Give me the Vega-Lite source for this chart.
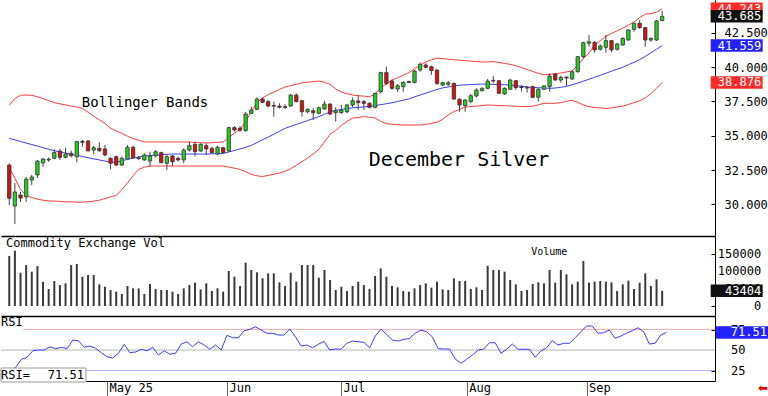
{
"$schema":"https://vega.github.io/schema/vega-lite/v6.json",
"background":"white",
"padding":0,
"spacing":0,
"bounds":"flush",
"config":{"view":{"stroke":null},"font":"DejaVu Sans Mono","axis":{"labelFont":"DejaVu Sans Mono","labelFontSize":12,"labelColor":"#000","grid":false,"labelOverlap":false},"text":{"font":"DejaVu Sans Mono"}},
"data":{"values":[
{"d":"2025-04-04","o":32.87,"h":33.0,"l":29.96,"c":30.45,"v":143000,"r":22,"ub":37.23,"ma":34.81,"lb":32.65},
{"d":"2025-04-07","o":29.89,"h":31.56,"l":28.58,"c":30.91,"v":158000,"r":25,"ub":37.70,"ma":34.70,"lb":31.91},
{"d":"2025-04-08","o":30.69,"h":30.91,"l":30.18,"c":30.47,"v":95000,"r":28.9,"ub":37.95,"ma":34.58,"lb":31.10},
{"d":"2025-04-09","o":30.55,"h":32.0,"l":30.18,"c":31.85,"v":117000,"r":38.7,"ub":37.96,"ma":34.47,"lb":30.68},
{"d":"2025-04-10","o":31.78,"h":32.15,"l":31.42,"c":32.0,"v":98000,"r":41.1,"ub":37.94,"ma":34.36,"lb":30.50},
{"d":"2025-04-11","o":32.15,"h":33.24,"l":31.93,"c":33.16,"v":114000,"r":49.1,"ub":37.84,"ma":34.25,"lb":30.39},
{"d":"2025-04-14","o":33.02,"h":33.38,"l":32.73,"c":33.31,"v":69000,"r":50.0,"ub":37.70,"ma":34.13,"lb":30.31},
{"d":"2025-04-15","o":33.24,"h":33.42,"l":33.1,"c":33.3,"v":48600,"r":50.0,"ub":37.56,"ma":34.02,"lb":30.26},
{"d":"2025-04-16","o":33.36,"h":34.04,"l":33.31,"c":33.77,"v":71400,"r":54.0,"ub":37.41,"ma":33.91,"lb":30.25},
{"d":"2025-04-17","o":33.89,"h":34.04,"l":33.24,"c":33.43,"v":60000,"r":51.6,"ub":37.32,"ma":33.83,"lb":30.22},
{"d":"2025-04-21","o":33.43,"h":34.13,"l":33.36,"c":33.67,"v":64800,"r":53.3,"ub":37.24,"ma":33.74,"lb":30.20},
{"d":"2025-04-22","o":33.72,"h":33.92,"l":33.43,"c":33.55,"v":117000,"r":51.6,"ub":37.16,"ma":33.66,"lb":30.19},
{"d":"2025-04-23","o":33.48,"h":34.64,"l":33.07,"c":34.57,"v":120000,"r":62.2,"ub":37.09,"ma":33.57,"lb":30.17},
{"d":"2025-04-24","o":34.6,"h":34.69,"l":34.2,"c":34.52,"v":83800,"r":61.3,"ub":36.99,"ma":33.49,"lb":30.17},
{"d":"2025-04-25","o":34.62,"h":34.69,"l":33.89,"c":33.89,"v":88600,"r":53.3,"ub":36.71,"ma":33.41,"lb":30.20},
{"d":"2025-04-28","o":33.96,"h":34.28,"l":33.67,"c":34.13,"v":88600,"r":54.9,"ub":36.42,"ma":33.32,"lb":30.24},
{"d":"2025-04-29","o":34.08,"h":34.52,"l":33.84,"c":33.91,"v":61900,"r":52.1,"ub":36.16,"ma":33.24,"lb":30.31},
{"d":"2025-04-30","o":34.04,"h":34.33,"l":33.5,"c":33.6,"v":55200,"r":46.7,"ub":35.90,"ma":33.16,"lb":30.43},
{"d":"2025-05-01","o":33.36,"h":33.43,"l":32.56,"c":33.0,"v":45700,"r":41.8,"ub":35.55,"ma":33.08,"lb":30.55},
{"d":"2025-05-02","o":33.48,"h":33.55,"l":32.8,"c":32.87,"v":41000,"r":40.2,"ub":35.35,"ma":33.06,"lb":30.66},
{"d":"2025-05-05","o":32.87,"h":33.5,"l":32.8,"c":33.36,"v":34300,"r":46.0,"ub":35.18,"ma":33.18,"lb":31.08},
{"d":"2025-05-06","o":33.31,"h":34.33,"l":33.31,"c":34.16,"v":57100,"r":57.0,"ub":34.97,"ma":33.28,"lb":31.57},
{"d":"2025-05-07","o":34.16,"h":34.28,"l":33.36,"c":33.4,"v":50500,"r":46.7,"ub":34.79,"ma":33.37,"lb":32.10},
{"d":"2025-05-08","o":33.4,"h":33.53,"l":33.26,"c":33.33,"v":50500,"r":47.6,"ub":34.67,"ma":33.45,"lb":32.55},
{"d":"2025-05-09","o":33.24,"h":33.72,"l":33.18,"c":33.6,"v":34300,"r":50.9,"ub":34.55,"ma":33.53,"lb":32.71},
{"d":"2025-05-12","o":33.16,"h":33.84,"l":32.75,"c":33.53,"v":62900,"r":49.1,"ub":34.55,"ma":33.56,"lb":32.79},
{"d":"2025-05-13","o":33.53,"h":33.96,"l":33.43,"c":33.84,"v":48600,"r":53.3,"ub":34.55,"ma":33.59,"lb":32.80},
{"d":"2025-05-14","o":33.77,"h":33.84,"l":33.0,"c":33.04,"v":45700,"r":43.9,"ub":34.55,"ma":33.62,"lb":32.80},
{"d":"2025-05-15","o":33.0,"h":33.6,"l":32.51,"c":33.48,"v":45700,"r":49.1,"ub":34.55,"ma":33.65,"lb":32.80},
{"d":"2025-05-16","o":33.53,"h":33.6,"l":32.8,"c":33.11,"v":41000,"r":44.8,"ub":34.55,"ma":33.67,"lb":32.80},
{"d":"2025-05-19","o":33.36,"h":33.48,"l":33.12,"c":33.24,"v":34300,"r":46.0,"ub":34.55,"ma":33.67,"lb":32.80},
{"d":"2025-05-20","o":33.24,"h":34.08,"l":33.0,"c":33.96,"v":50500,"r":57.3,"ub":34.55,"ma":33.67,"lb":32.80},
{"d":"2025-05-21","o":33.96,"h":34.57,"l":33.84,"c":34.28,"v":60000,"r":60.1,"ub":34.54,"ma":33.67,"lb":32.80},
{"d":"2025-05-22","o":34.38,"h":34.57,"l":33.5,"c":33.84,"v":66700,"r":54.0,"ub":34.52,"ma":33.67,"lb":32.80},
{"d":"2025-05-23","o":33.89,"h":34.45,"l":33.84,"c":34.38,"v":47600,"r":60.1,"ub":34.49,"ma":33.67,"lb":32.80},
{"d":"2025-05-27","o":34.28,"h":34.45,"l":33.6,"c":34.04,"v":64800,"r":56.1,"ub":34.48,"ma":33.67,"lb":32.80},
{"d":"2025-05-28","o":34.08,"h":34.2,"l":33.72,"c":33.77,"v":42900,"r":50.9,"ub":34.49,"ma":33.68,"lb":32.80},
{"d":"2025-05-29","o":33.67,"h":34.28,"l":33.6,"c":34.16,"v":50500,"r":56.1,"ub":34.52,"ma":33.70,"lb":32.80},
{"d":"2025-05-30","o":34.13,"h":34.2,"l":33.72,"c":33.77,"v":41000,"r":50.0,"ub":34.56,"ma":33.72,"lb":32.80},
{"d":"2025-06-02","o":33.89,"h":35.66,"l":33.84,"c":35.59,"v":100000,"r":67.9,"ub":34.86,"ma":33.82,"lb":32.72},
{"d":"2025-06-03","o":35.59,"h":35.71,"l":35.3,"c":35.42,"v":83800,"r":65.0,"ub":35.19,"ma":33.93,"lb":32.64},
{"d":"2025-06-04","o":35.55,"h":35.7,"l":35.3,"c":35.4,"v":57100,"r":65.0,"ub":35.45,"ma":34.04,"lb":32.55},
{"d":"2025-06-05","o":35.37,"h":36.73,"l":35.3,"c":36.58,"v":123800,"r":73.5,"ub":36.01,"ma":34.16,"lb":32.39},
{"d":"2025-06-06","o":36.63,"h":37.12,"l":36.58,"c":36.87,"v":102900,"r":75.2,"ub":36.77,"ma":34.30,"lb":32.19},
{"d":"2025-06-09","o":36.92,"h":37.79,"l":36.87,"c":37.67,"v":96200,"r":78.4,"ub":37.40,"ma":34.50,"lb":32.09},
{"d":"2025-06-10","o":37.67,"h":37.77,"l":37.36,"c":37.43,"v":79000,"r":74.4,"ub":37.75,"ma":34.71,"lb":32.03},
{"d":"2025-06-11","o":37.48,"h":37.6,"l":37.07,"c":37.16,"v":93300,"r":70.4,"ub":37.99,"ma":34.90,"lb":32.12},
{"d":"2025-06-12","o":37.2,"h":37.48,"l":36.39,"c":37.15,"v":93300,"r":70.4,"ub":38.17,"ma":35.11,"lb":32.20},
{"d":"2025-06-13","o":37.16,"h":37.36,"l":36.99,"c":37.07,"v":67600,"r":68.3,"ub":38.36,"ma":35.32,"lb":32.28},
{"d":"2025-06-16","o":37.12,"h":37.3,"l":36.95,"c":37.05,"v":57100,"r":68.3,"ub":38.55,"ma":35.54,"lb":32.42},
{"d":"2025-06-17","o":37.16,"h":38.04,"l":37.12,"c":37.96,"v":95200,"r":75.6,"ub":38.65,"ma":35.68,"lb":32.60},
{"d":"2025-06-18","o":37.96,"h":38.08,"l":37.43,"c":37.48,"v":69500,"r":66.2,"ub":38.74,"ma":35.82,"lb":32.86},
{"d":"2025-06-20","o":37.55,"h":37.6,"l":36.39,"c":36.75,"v":117000,"r":54.9,"ub":38.84,"ma":35.96,"lb":33.11},
{"d":"2025-06-23","o":36.75,"h":36.99,"l":36.63,"c":36.92,"v":117000,"r":56.1,"ub":38.89,"ma":36.10,"lb":33.38},
{"d":"2025-06-24","o":36.82,"h":36.99,"l":36.15,"c":36.68,"v":117000,"r":52.8,"ub":38.94,"ma":36.25,"lb":33.68},
{"d":"2025-06-25","o":36.63,"h":37.12,"l":36.56,"c":37.04,"v":81000,"r":57.0,"ub":38.98,"ma":36.39,"lb":34.00},
{"d":"2025-06-26","o":36.95,"h":37.55,"l":36.87,"c":37.31,"v":102900,"r":60.6,"ub":38.90,"ma":36.56,"lb":34.55},
{"d":"2025-06-27","o":37.31,"h":37.36,"l":36.51,"c":36.58,"v":74300,"r":50.0,"ub":38.74,"ma":36.73,"lb":35.11},
{"d":"2025-06-30","o":36.68,"h":37.07,"l":36.03,"c":36.82,"v":45700,"r":51.2,"ub":38.40,"ma":36.85,"lb":35.39},
{"d":"2025-07-01","o":36.68,"h":37.24,"l":36.58,"c":36.87,"v":55200,"r":50.9,"ub":38.18,"ma":36.91,"lb":35.75},
{"d":"2025-07-02","o":36.75,"h":37.31,"l":36.63,"c":37.24,"v":42900,"r":58.2,"ub":38.06,"ma":36.98,"lb":36.04},
{"d":"2025-07-03","o":37.24,"h":37.79,"l":37.07,"c":37.55,"v":57100,"r":61.0,"ub":37.96,"ma":37.03,"lb":36.28},
{"d":"2025-07-07","o":37.53,"h":37.96,"l":36.87,"c":37.41,"v":69500,"r":60.1,"ub":37.91,"ma":37.06,"lb":36.33},
{"d":"2025-07-08","o":37.48,"h":37.6,"l":36.87,"c":37.36,"v":60000,"r":59.4,"ub":37.88,"ma":37.10,"lb":36.39},
{"d":"2025-07-09","o":37.36,"h":37.43,"l":36.99,"c":37.07,"v":48600,"r":52.8,"ub":37.84,"ma":37.13,"lb":36.34},
{"d":"2025-07-10","o":37.07,"h":38.13,"l":36.99,"c":38.08,"v":85700,"r":67.1,"ub":38.02,"ma":37.19,"lb":36.29},
{"d":"2025-07-11","o":38.2,"h":39.66,"l":38.08,"c":39.59,"v":107600,"r":75.6,"ub":38.49,"ma":37.26,"lb":36.04},
{"d":"2025-07-14","o":39.59,"h":40.02,"l":38.69,"c":38.81,"v":83800,"r":68.7,"ub":38.77,"ma":37.33,"lb":35.88},
{"d":"2025-07-15","o":38.98,"h":39.1,"l":38.33,"c":38.45,"v":57100,"r":62.1,"ub":39.03,"ma":37.40,"lb":35.84},
{"d":"2025-07-16","o":38.4,"h":38.76,"l":38.2,"c":38.64,"v":53300,"r":61.0,"ub":39.22,"ma":37.49,"lb":35.80},
{"d":"2025-07-17","o":38.57,"h":38.98,"l":38.2,"c":38.88,"v":42900,"r":63.0,"ub":39.40,"ma":37.59,"lb":35.78},
{"d":"2025-07-18","o":38.95,"h":39.0,"l":38.83,"c":38.88,"v":41000,"r":64.1,"ub":39.59,"ma":37.68,"lb":35.78},
{"d":"2025-07-21","o":38.88,"h":39.78,"l":38.81,"c":39.71,"v":50500,"r":70.7,"ub":39.86,"ma":37.83,"lb":35.78},
{"d":"2025-07-22","o":39.78,"h":40.32,"l":39.66,"c":40.2,"v":60000,"r":74.4,"ub":40.15,"ma":37.96,"lb":35.78},
{"d":"2025-07-23","o":40.15,"h":40.27,"l":39.9,"c":39.98,"v":64800,"r":72.3,"ub":40.36,"ma":38.10,"lb":35.82},
{"d":"2025-07-24","o":40.02,"h":40.1,"l":39.42,"c":39.74,"v":52400,"r":65.9,"ub":40.52,"ma":38.23,"lb":35.90},
{"d":"2025-07-25","o":39.78,"h":39.83,"l":38.69,"c":38.81,"v":69500,"r":51.8,"ub":40.65,"ma":38.37,"lb":35.99},
{"d":"2025-07-28","o":38.69,"h":38.93,"l":38.62,"c":38.86,"v":47600,"r":51.2,"ub":40.61,"ma":38.48,"lb":36.19},
{"d":"2025-07-29","o":38.74,"h":38.98,"l":38.62,"c":38.86,"v":45700,"r":51.2,"ub":40.57,"ma":38.55,"lb":36.51},
{"d":"2025-07-30","o":38.81,"h":38.86,"l":37.6,"c":37.67,"v":79000,"r":39.0,"ub":40.53,"ma":38.63,"lb":36.76},
{"d":"2025-07-31","o":37.65,"h":37.72,"l":36.75,"c":37.24,"v":71400,"r":33.8,"ub":40.49,"ma":38.68,"lb":36.92},
{"d":"2025-08-01","o":37.19,"h":37.65,"l":36.75,"c":37.6,"v":71400,"r":38.7,"ub":40.46,"ma":38.70,"lb":37.08},
{"d":"2025-08-04","o":37.48,"h":38.04,"l":37.36,"c":37.91,"v":48600,"r":43.9,"ub":40.43,"ma":38.72,"lb":37.13},
{"d":"2025-08-05","o":37.89,"h":38.45,"l":37.79,"c":38.33,"v":53300,"r":50.0,"ub":40.39,"ma":38.74,"lb":37.16},
{"d":"2025-08-06","o":38.28,"h":38.52,"l":38.21,"c":38.45,"v":45700,"r":51.2,"ub":40.36,"ma":38.76,"lb":37.19},
{"d":"2025-08-07","o":38.45,"h":39.13,"l":38.38,"c":38.98,"v":115000,"r":58.9,"ub":40.37,"ma":38.75,"lb":37.24},
{"d":"2025-08-08","o":39.03,"h":39.35,"l":38.81,"c":38.98,"v":102900,"r":58.9,"ub":40.39,"ma":38.73,"lb":37.22},
{"d":"2025-08-11","o":39.0,"h":39.05,"l":38.04,"c":38.09,"v":102900,"r":46.0,"ub":40.33,"ma":38.72,"lb":37.20},
{"d":"2025-08-12","o":38.04,"h":38.52,"l":37.96,"c":38.45,"v":98000,"r":50.9,"ub":40.26,"ma":38.71,"lb":37.18},
{"d":"2025-08-13","o":38.38,"h":39.15,"l":38.33,"c":39.05,"v":74300,"r":57.3,"ub":40.19,"ma":38.68,"lb":37.16},
{"d":"2025-08-14","o":39.0,"h":39.05,"l":38.33,"c":38.5,"v":61900,"r":50.9,"ub":40.09,"ma":38.64,"lb":37.15},
{"d":"2025-08-15","o":38.55,"h":38.69,"l":38.21,"c":38.5,"v":42900,"r":50.9,"ub":39.96,"ma":38.60,"lb":37.13},
{"d":"2025-08-18","o":38.5,"h":38.62,"l":38.14,"c":38.47,"v":45700,"r":50.9,"ub":39.82,"ma":38.55,"lb":37.12},
{"d":"2025-08-19","o":38.57,"h":38.64,"l":37.72,"c":37.8,"v":62900,"r":41.1,"ub":39.68,"ma":38.52,"lb":37.15},
{"d":"2025-08-20","o":37.8,"h":38.45,"l":37.48,"c":38.38,"v":67600,"r":48.8,"ub":39.54,"ma":38.49,"lb":37.25},
{"d":"2025-08-21","o":38.38,"h":38.69,"l":38.33,"c":38.62,"v":64800,"r":52.8,"ub":39.43,"ma":38.47,"lb":37.36},
{"d":"2025-08-22","o":38.57,"h":39.54,"l":38.21,"c":39.35,"v":102900,"r":61.3,"ub":39.47,"ma":38.45,"lb":37.36},
{"d":"2025-08-25","o":39.49,"h":39.54,"l":39.0,"c":39.05,"v":66700,"r":56.1,"ub":39.51,"ma":38.47,"lb":37.36},
{"d":"2025-08-26","o":39.05,"h":39.37,"l":38.86,"c":39.25,"v":102900,"r":58.2,"ub":39.56,"ma":38.52,"lb":37.41},
{"d":"2025-08-27","o":39.27,"h":39.3,"l":38.62,"c":39.2,"v":90500,"r":58.2,"ub":39.64,"ma":38.60,"lb":37.50},
{"d":"2025-08-28","o":39.13,"h":39.73,"l":39.05,"c":39.66,"v":61900,"r":65.0,"ub":39.72,"ma":38.71,"lb":37.59},
{"d":"2025-08-29","o":39.66,"h":40.8,"l":39.59,"c":40.75,"v":69500,"r":72.3,"ub":40.12,"ma":38.83,"lb":37.43},
{"d":"2025-09-02","o":40.75,"h":41.84,"l":40.63,"c":41.77,"v":128600,"r":79.3,"ub":40.62,"ma":38.97,"lb":37.24},
{"d":"2025-09-03","o":41.72,"h":42.33,"l":41.48,"c":41.84,"v":66700,"r":79.3,"ub":41.02,"ma":39.11,"lb":37.12},
{"d":"2025-09-04","o":41.79,"h":41.89,"l":41.04,"c":41.24,"v":69500,"r":70.4,"ub":41.60,"ma":39.26,"lb":37.06},
{"d":"2025-09-05","o":41.29,"h":41.65,"l":41.19,"c":41.53,"v":71400,"r":71.1,"ub":41.91,"ma":39.39,"lb":37.03},
{"d":"2025-09-08","o":41.43,"h":42.33,"l":41.04,"c":41.92,"v":69500,"r":74.4,"ub":42.23,"ma":39.54,"lb":36.98},
{"d":"2025-09-09","o":41.92,"h":41.96,"l":41.07,"c":41.24,"v":67600,"r":64.3,"ub":42.44,"ma":39.70,"lb":37.03},
{"d":"2025-09-10","o":41.29,"h":41.77,"l":41.19,"c":41.67,"v":42900,"r":67.1,"ub":42.63,"ma":39.84,"lb":37.09},
{"d":"2025-09-11","o":41.6,"h":42.16,"l":41.55,"c":42.08,"v":61900,"r":70.4,"ub":42.83,"ma":39.98,"lb":37.15},
{"d":"2025-09-12","o":41.96,"h":42.74,"l":41.92,"c":42.69,"v":72400,"r":73.5,"ub":43.03,"ma":40.17,"lb":37.27},
{"d":"2025-09-15","o":42.74,"h":43.23,"l":42.57,"c":43.18,"v":48600,"r":77.2,"ub":43.28,"ma":40.34,"lb":37.41},
{"d":"2025-09-16","o":43.18,"h":43.42,"l":42.79,"c":42.86,"v":66700,"r":72.3,"ub":43.59,"ma":40.54,"lb":37.54},
{"d":"2025-09-17","o":42.86,"h":42.93,"l":41.48,"c":41.96,"v":93300,"r":57.3,"ub":43.85,"ma":40.77,"lb":37.75},
{"d":"2025-09-18","o":41.96,"h":42.16,"l":41.84,"c":42.08,"v":57100,"r":58.2,"ub":43.88,"ma":41.03,"lb":38.07},
{"d":"2025-09-19","o":41.96,"h":43.42,"l":41.89,"c":43.35,"v":76200,"r":68.3,"ub":43.99,"ma":41.29,"lb":38.45},
{"d":"2025-09-22","o":43.37,"h":44.1,"l":43.35,"c":43.685,"v":43404,"r":71.51,"ub":44.243,"ma":41.559,"lb":38.876}
]},
"transform":[
{"window":[{"op":"row_number","as":"rn"}]},
{"joinaggregate":[{"op":"max","field":"rn","as":"last"}]}
],
"vconcat":[
{
"width":714,"height":236,
"encoding":{"x":{"field":"rn","type":"quantitative","title":null,"scale":{"domain":[0.42,125.5],"nice":false,"zero":false},"axis":{"labels":false,"ticks":false,"domainColor":"#000","domainWidth":1.5,"grid":false}}},
"layer":[
{"mark":{"type":"line","color":"#ff3a3a","strokeWidth":1},"encoding":{"y":{"field":"ub","type":"quantitative","title":null,"scale":{"domain":[27.709,44.873],"nice":false,"zero":false},"axis":{"orient":"right","values":[30,32.5,35,37.5,40,42.5],"format":".3f","tickSize":-4,"labelPadding":13,"domainColor":"#000","tickColor":"#000","grid":false}}}},
{"mark":{"type":"line","color":"#3a3aff","strokeWidth":1},"encoding":{"y":{"field":"ma","type":"quantitative","title":null}}},
{"mark":{"type":"line","color":"#ff3a3a","strokeWidth":1},"encoding":{"y":{"field":"lb","type":"quantitative","title":null}}},
{"mark":{"type":"rule","color":"#444","strokeWidth":1},"encoding":{"y":{"field":"l","type":"quantitative","title":null},"y2":{"field":"h"}}},
{"mark":{"type":"bar","size":3.4,"stroke":"#333","strokeWidth":0.8},"encoding":{"y":{"field":"o","type":"quantitative","title":null},"y2":{"field":"c"},"color":{"condition":{"test":"datum.c >= datum.o","value":"#22cc22"},"value":"#d41010"}}},
{"transform":[{"filter":"datum.rn == datum.last"}],"mark":{"type":"text","text":"Bollinger Bands","font":"DejaVu Sans Mono","fontSize":14,"align":"center","baseline":"middle","color":"#000"},"encoding":{"x":{"datum":25.12},"y":{"datum":37.38}}},
{"transform":[{"filter":"datum.rn == datum.last"}],"mark":{"type":"text","text":"December Silver","font":"DejaVu Sans Mono","fontSize":20,"align":"center","baseline":"middle","color":"#000"},"encoding":{"x":{"datum":80.92},"y":{"datum":33.27}}},
{"transform":[{"filter":"datum.rn == datum.last"}],"mark":{"type":"tick","orient":"horizontal","thickness":12.5,"opacity":1,"color":"#ff2a2a"},"encoding":{"x":{"datum":130.24},"y":{"field":"ub","type":"quantitative","title":null},"size":{"value":52}}},
{"transform":[{"filter":"datum.rn == datum.last"}],"mark":{"type":"text","align":"right","baseline":"middle","fontSize":12,"color":"white"},"encoding":{"x":{"datum":134.6},"y":{"field":"ub","type":"quantitative","title":null},"text":{"field":"ub","type":"quantitative","format":".3f"}}},
{"transform":[{"filter":"datum.rn == datum.last"},{"fold":["c","ma","lb"],"as":["key","val"]}],"mark":{"type":"tick","orient":"horizontal","thickness":12.5,"opacity":1},"encoding":{"x":{"datum":130.24},"y":{"field":"val","type":"quantitative","title":null},"size":{"value":52},"color":{"field":"key","type":"nominal","scale":{"domain":["c","ma","lb"],"range":["#111111","#2222ff","#ff2a2a"]},"legend":null}}},
{"transform":[{"filter":"datum.rn == datum.last"},{"fold":["c","ma","lb"],"as":["key","val"]}],"mark":{"type":"text","align":"right","baseline":"middle","fontSize":12,"color":"white"},"encoding":{"x":{"datum":134.6},"y":{"field":"val","type":"quantitative","title":null},"text":{"field":"val","type":"quantitative","format":".3f"}}}
]
},
{
"width":714,"height":80,
"encoding":{"x":{"field":"rn","type":"quantitative","title":null,"scale":{"domain":[0.42,125.5],"nice":false,"zero":false},"axis":{"labels":false,"ticks":false,"domainColor":"#000","domainWidth":1.5,"grid":false}}},
"layer":[
{"mark":{"type":"bar","size":2,"color":"#3a3a3a"},"encoding":{"y":{"field":"v","type":"quantitative","title":null,"scale":{"domain":[-28571,200000],"nice":false,"zero":false},"axis":{"orient":"right","values":[0,50000,100000,150000],"labels":false,"tickSize":-4,"domainColor":"#000","tickColor":"#000","grid":false}},"y2":{"datum":0}}},
{"transform":[{"filter":"datum.rn == datum.last"}],"mark":{"type":"text","text":"Commodity Exchange Vol","fontSize":12,"align":"left","baseline":"top","dy":2,"color":"#000"},"encoding":{"x":{"datum":0.42},"y":{"datum":200000}}},
{"transform":[{"filter":"datum.rn == datum.last"}],"mark":{"type":"text","text":"Volume","fontSize":10,"align":"center","baseline":"middle","color":"#000"},"encoding":{"x":{"datum":96.95},"y":{"datum":154286}}},
{"transform":[{"filter":"datum.rn == datum.last"}],"mark":{"type":"text","text":"150000","fontSize":12,"align":"right","baseline":"middle","color":"#000"},"encoding":{"x":{"datum":134.6},"y":{"datum":150000}}},
{"transform":[{"filter":"datum.rn == datum.last"}],"mark":{"type":"text","text":"100000","fontSize":12,"align":"right","baseline":"middle","color":"#000"},"encoding":{"x":{"datum":134.6},"y":{"datum":100000}}},
{"transform":[{"filter":"datum.rn == datum.last"}],"mark":{"type":"text","text":"50000","fontSize":12,"align":"right","baseline":"middle","color":"#000"},"encoding":{"x":{"datum":134.6},"y":{"datum":50000}}},
{"transform":[{"filter":"datum.rn == datum.last"}],"mark":{"type":"text","text":"0","fontSize":12,"align":"right","baseline":"middle","color":"#000"},"encoding":{"x":{"datum":134.6},"y":{"datum":0}}},
{"transform":[{"filter":"datum.rn == datum.last"}],"mark":{"type":"tick","orient":"horizontal","thickness":12.5,"opacity":1,"color":"#111"},"encoding":{"x":{"datum":130.24},"y":{"field":"v","type":"quantitative","title":null},"size":{"value":52}}},
{"transform":[{"filter":"datum.rn == datum.last"}],"mark":{"type":"text","align":"right","baseline":"middle","fontSize":12,"color":"white"},"encoding":{"x":{"datum":134.6},"y":{"field":"v","type":"quantitative","title":null},"text":{"field":"v","type":"quantitative","format":"d"}}}
]
},
{
"width":714,"height":65,
"encoding":{"x":{"field":"rn","type":"quantitative","title":null,"scale":{"domain":[0.42,125.5],"nice":false,"zero":false},"axis":{"values":[19,40,60,82,103],"labelExpr":"datum.value == 19 ? 'May 25' : datum.value == 40 ? 'Jun' : datum.value == 60 ? 'Jul' : datum.value == 82 ? 'Aug' : 'Sep'","tickSize":15,"tickColor":"#666","labelPadding":-14,"labelAlign":"left","labelBaseline":"top","labelOffset":2,"labelOverlap":false,"labelFlush":false,"domainColor":"#000","grid":false}}},
"layer":[
{"transform":[{"filter":"datum.rn == datum.last"}],"mark":{"type":"rule","color":"#ffb0b0","strokeWidth":1},"encoding":{"x":{"datum":4.27},"x2":{"datum":125.5},"y":{"datum":75,"type":"quantitative","title":null,"scale":{"domain":[12.2,91.5],"nice":false,"zero":false},"axis":{"orient":"right","values":[25,50,75],"labels":false,"tickSize":-4,"domainColor":"#000","tickColor":"#000","grid":false}}}},
{"transform":[{"filter":"datum.rn == datum.last"}],"mark":{"type":"rule","color":"#b4b4b4","strokeWidth":1},"encoding":{"x":{"datum":0.42},"x2":{"datum":125.5},"y":{"datum":50}}},
{"transform":[{"filter":"datum.rn == datum.last"}],"mark":{"type":"rule","color":"#b0b0ff","strokeWidth":1},"encoding":{"x":{"datum":0.42},"x2":{"datum":125.5},"y":{"datum":25}}},
{"mark":{"type":"line","color":"#3a3aff","strokeWidth":1},"encoding":{"y":{"field":"r","type":"quantitative","title":null}}},
{"transform":[{"filter":"datum.rn == datum.last"}],"mark":{"type":"text","text":"RSI","fontSize":12,"align":"left","baseline":"top","dy":1,"color":"#000"},"encoding":{"x":{"datum":0.42},"y":{"datum":91.5}}},
{"transform":[{"filter":"datum.rn == datum.last"}],"mark":{"type":"rect","fill":"white","stroke":"#999","strokeWidth":1},"encoding":{"x":{"datum":0.42},"x2":{"datum":15.31},"y":{"datum":28.05},"y2":{"datum":10.98}}},
{"transform":[{"filter":"datum.rn == datum.last"}],"mark":{"type":"text","text":"RSI=","fontSize":12,"align":"left","baseline":"middle","color":"#000"},"encoding":{"x":{"datum":0.42},"y":{"datum":20}}},
{"transform":[{"filter":"datum.rn == datum.last"}],"mark":{"type":"text","fontSize":12,"align":"right","baseline":"middle","color":"#000"},"encoding":{"x":{"datum":14.96},"y":{"datum":20},"text":{"field":"r","type":"quantitative","format":".2f"}}},
{"transform":[{"filter":"datum.rn == datum.last"}],"mark":{"type":"text","text":"75","fontSize":12,"align":"left","baseline":"middle","color":"#000"},"encoding":{"x":{"datum":128.31},"y":{"datum":75}}},
{"transform":[{"filter":"datum.rn == datum.last"}],"mark":{"type":"text","text":"50","fontSize":12,"align":"left","baseline":"middle","color":"#000"},"encoding":{"x":{"datum":128.31},"y":{"datum":50}}},
{"transform":[{"filter":"datum.rn == datum.last"}],"mark":{"type":"text","text":"25","fontSize":12,"align":"left","baseline":"middle","color":"#000"},"encoding":{"x":{"datum":128.31},"y":{"datum":25}}},
{"transform":[{"filter":"datum.rn == datum.last"}],"mark":{"type":"tick","orient":"horizontal","thickness":12.5,"opacity":1,"color":"#2222ff"},"encoding":{"x":{"datum":130.24},"y":{"field":"r","type":"quantitative","title":null},"size":{"value":52}}},
{"transform":[{"filter":"datum.rn == datum.last"}],"mark":{"type":"text","align":"right","baseline":"middle","fontSize":12,"color":"white"},"encoding":{"x":{"datum":134.6},"y":{"field":"r","type":"quantitative","title":null},"text":{"field":"r","type":"quantitative","format":".2f"}}},
{"transform":[{"filter":"datum.rn == datum.last"}],"mark":{"type":"text","text":"⬅","font":"DejaVu Sans","fontSize":12,"align":"center","baseline":"middle","color":"#e00000"},"encoding":{"x":{"datum":133.9},"y":{"datum":3.66}}}
]
}
]
}
